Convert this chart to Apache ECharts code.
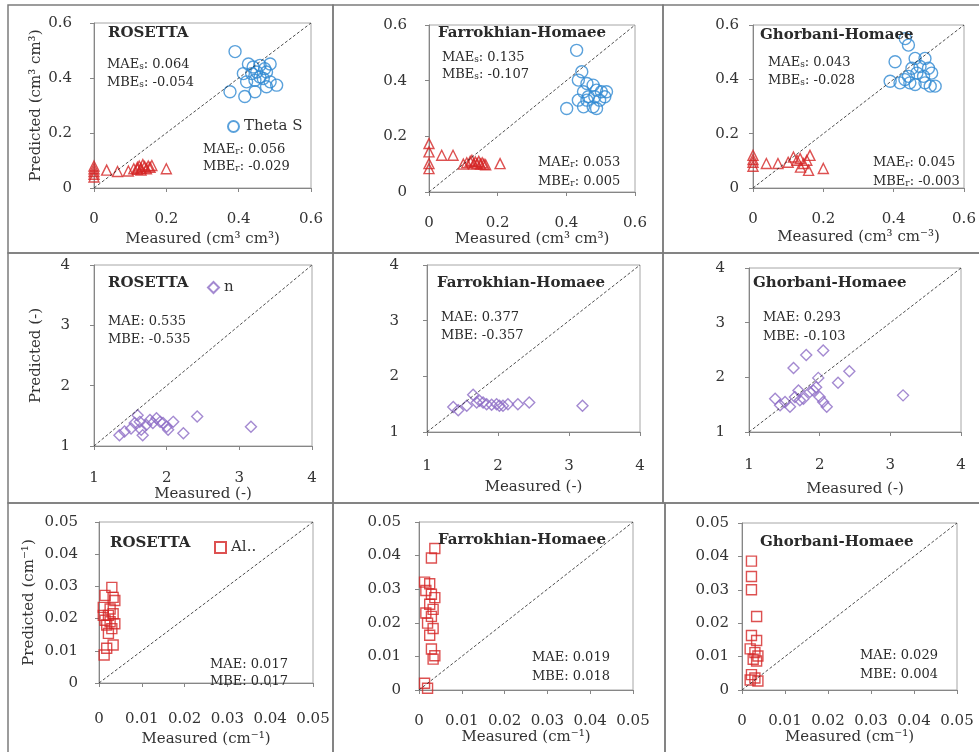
<!DOCTYPE html>
<html><head><meta charset="utf-8">
<script src="https://cdn.jsdelivr.net/npm/echarts@6/dist/echarts.min.js"></script>
<style>html,body{margin:0;padding:0;background:#fff}#c{width:979px;height:752px}</style>
</head><body><div id="c"></div>
<script>
// ================= DATA =================
// axis ranges
const thetaAxis = [0, 0.6, 0.2];
const nAxis = [1, 4, 1];
const alphaAxis = [0, 0.05, 0.01];

// --- Row 1: water contents (theta s = circles, theta r = triangles) ---
const thS_R_meas = [0.39,0.427,0.44,0.459,0.487,0.413,0.45,0.477,0.422,0.445,0.468,0.487,0.505,0.376,0.417,0.445,0.477,0.459,0.436,0.472];
const thS_R_pred = [0.496,0.451,0.44,0.446,0.451,0.416,0.422,0.422,0.386,0.392,0.398,0.386,0.374,0.35,0.333,0.35,0.368,0.404,0.416,0.434];
const thR_R_meas = [0,0,0,0,0,0.035,0.065,0.095,0.11,0.12,0.125,0.13,0.135,0.14,0.145,0.15,0.155,0.16,0.12,0.13,0.2];
const thR_R_pred = [0.04,0.05,0.06,0.07,0.08,0.065,0.06,0.062,0.07,0.075,0.08,0.072,0.085,0.078,0.07,0.08,0.075,0.082,0.068,0.065,0.07];

const thS_F_meas = [0.43,0.445,0.435,0.46,0.478,0.488,0.502,0.517,0.45,0.464,0.483,0.497,0.46,0.435,0.45,0.478,0.488,0.401,0.512];
const thS_F_pred = [0.509,0.432,0.402,0.39,0.384,0.366,0.36,0.36,0.36,0.342,0.342,0.33,0.33,0.33,0.306,0.306,0.3,0.3,0.342];
const thR_F_meas = [0,0,0,0,0.037,0.07,0.1,0.11,0.12,0.125,0.13,0.135,0.14,0.145,0.15,0.155,0.16,0.165,0.207];
const thR_F_pred = [0.174,0.144,0.102,0.084,0.132,0.132,0.1,0.105,0.11,0.114,0.1,0.108,0.102,0.11,0.1,0.105,0.1,0.098,0.102];

const thS_G_meas = [0.442,0.433,0.404,0.461,0.489,0.475,0.452,0.499,0.466,0.442,0.485,0.508,0.39,0.418,0.446,0.461,0.489,0.504,0.518,0.432];
const thS_G_pred = [0.526,0.55,0.465,0.477,0.477,0.447,0.441,0.441,0.423,0.411,0.411,0.423,0.393,0.387,0.387,0.381,0.387,0.375,0.375,0.399];
const thR_G_meas = [0,0,0,0,0.038,0.071,0.1,0.115,0.125,0.134,0.144,0.153,0.135,0.162,0.158,0.2];
const thR_G_pred = [0.12,0.105,0.095,0.08,0.09,0.09,0.095,0.114,0.102,0.108,0.09,0.102,0.077,0.12,0.065,0.072];

// --- Row 2: n (diamonds) ---
const n_R_meas = [1.35,1.42,1.51,1.56,1.60,1.63,1.65,1.67,1.72,1.77,1.81,1.86,1.91,1.95,2.0,2.02,2.09,2.23,2.42,3.16];
const n_R_pred = [1.18,1.24,1.29,1.38,1.51,1.40,1.27,1.18,1.35,1.43,1.38,1.46,1.40,1.38,1.32,1.27,1.40,1.21,1.49,1.32];
const n_F_meas = [1.37,1.44,1.56,1.65,1.70,1.74,1.79,1.84,1.91,1.98,2.02,2.07,2.14,2.28,2.44,3.19];
const n_F_pred = [1.45,1.39,1.47,1.67,1.53,1.56,1.53,1.50,1.49,1.50,1.47,1.47,1.50,1.50,1.53,1.47];
const n_G_meas = [1.37,1.44,1.51,1.58,1.63,1.65,1.70,1.72,1.77,1.81,1.86,1.91,1.95,1.98,2.0,2.05,2.05,2.10,2.26,2.42,3.18];
const n_G_pred = [1.61,1.49,1.55,1.46,2.17,1.64,1.76,1.58,1.61,2.41,1.73,1.76,1.82,1.99,1.64,2.49,1.55,1.46,1.90,2.11,1.67];

// --- Row 3: alpha (squares) ---
const a_R_meas = [0.0012,0.0033,0.0018,0.003,0.0014,0.0033,0.001,0.0026,0.0022,0.0033,0.0014,0.0026,0.0037,0.0018,0.003,0.0022,0.001,0.0037];
const a_R_pred = [0.0087,0.0118,0.0108,0.0297,0.0272,0.0266,0.0235,0.023,0.021,0.0215,0.0195,0.019,0.0184,0.018,0.0169,0.0154,0.021,0.0256];
const a_F_meas = [0.0037,0.0029,0.0013,0.0025,0.0016,0.0029,0.0037,0.0025,0.0033,0.0016,0.0029,0.002,0.0033,0.0025,0.0029,0.0037,0.0033,0.0013,0.002];
const a_F_pred = [0.0421,0.0393,0.0321,0.0316,0.0296,0.0285,0.0275,0.0255,0.024,0.0229,0.0219,0.0199,0.0183,0.0163,0.0122,0.0102,0.0092,0.002,0.0005];
const a_G_meas = [0.0022,0.0022,0.0022,0.0034,0.0022,0.0034,0.0019,0.003,0.0037,0.0026,0.0034,0.0022,0.003,0.0019,0.0037];
const a_G_pred = [0.0386,0.034,0.030,0.022,0.0163,0.0148,0.0123,0.0112,0.0102,0.0092,0.0087,0.0046,0.0036,0.003,0.0027];

// ================= LAYOUT / STYLE =================
const FONT = 'DejaVu Serif';
const TXT = '#333';
const AXC = '#868686';
const BLUE = '#3189d2', RED = '#d42626', PURPLE = '#8d6dc5';
const zip = (a, b) => a.map((v, i) => [v, b[i]]);

const panels = [
  {g:[94,23,217,165], ax:thetaAxis, yl:22, xl:24, xn:'Measured (cm³ cm³)', xg:44, yn:'Predicted (cm³ cm³)', yg:50},
  {g:[429,25,206,167], ax:thetaAxis, yl:22, xl:24, xn:'Measured (cm³ cm³)', xg:38},
  {g:[753,25,211,163], ax:thetaAxis, yl:14, xl:24, xn:'Measured (cm³ cm⁻³)', xg:42},
  {g:[94,265,218,181], ax:nAxis, yl:24, xl:25, xn:'Measured (-)', xg:34, yn:'Predicted (-)', yg:50},
  {g:[427,265,213,167], ax:nAxis, yl:28, xl:27, xn:'Measured (-)', xg:48},
  {g:[749,268,212,164], ax:nAxis, yl:24, xl:26, xn:'Measured (-)', xg:50},
  {g:[99,522,214,161], ax:alphaAxis, yl:21, xl:29, xn:'Measured (cm⁻¹)', xg:49, yn:'Predicted (cm⁻¹)', yg:62},
  {g:[419,522,214,168], ax:alphaAxis, yl:18, xl:24, xn:'Measured (cm⁻¹)', xg:40},
  {g:[742,523,215,167], ax:alphaAxis, yl:13, xl:24, xn:'Measured (cm⁻¹)', xg:40}
];

const grid = [], xAxis = [], yAxis = [], series = [];
panels.forEach((p, i) => {
  grid.push({left:p.g[0], top:p.g[1], width:p.g[2], height:p.g[3], show:true, borderColor:'#a6a6a6', borderWidth:1, backgroundColor:'transparent'});
  const common = {
    type:'value', gridIndex:i, min:p.ax[0], max:p.ax[1], interval:p.ax[2],
    axisLine:{show:true, onZero:false, lineStyle:{color:AXC, width:1}},
    axisTick:{show:true, length:4, lineStyle:{color:AXC}},
    splitLine:{show:false},
    nameLocation:'middle',
    nameTextStyle:{fontFamily:FONT, fontSize:15, color:TXT}
  };
  xAxis.push(Object.assign({}, common, {
    axisLabel:{margin:p.xl, fontFamily:FONT, fontSize:15, color:TXT},
    name:p.xn, nameGap:p.xg
  }));
  yAxis.push(Object.assign({}, common, {
    axisLabel:{margin:p.yl, fontFamily:FONT, fontSize:15, color:TXT},
    name:p.yn || '', nameGap:p.yg || 0
  }));
  series.push({
    type:'line', xAxisIndex:i, yAxisIndex:i, silent:true, symbol:'none', z:5,
    data:[[p.ax[0],p.ax[0]],[p.ax[1],p.ax[1]]],
    lineStyle:{color:'#222', width:0.8, type:[3,2]}
  });
});

function sc(name, i, xs, ys, symbol, size, color) {
  return {
    name, type:'scatter', xAxisIndex:i, yAxisIndex:i, symbol, symbolSize:size,
    data:zip(xs, ys),
    itemStyle:{color:'rgba(255,255,255,0)', borderColor:color, borderWidth:1.4}
  };
}
series.push(sc('Theta S', 0, thS_R_meas, thS_R_pred, 'circle', 12, BLUE));
series.push(sc('Theta r', 0, thR_R_meas, thR_R_pred, 'triangle', 10, RED));
series.push(sc('Theta S FH', 1, thS_F_meas, thS_F_pred, 'circle', 12, BLUE));
series.push(sc('Theta r FH', 1, thR_F_meas, thR_F_pred, 'triangle', 10, RED));
series.push(sc('Theta S GH', 2, thS_G_meas, thS_G_pred, 'circle', 12, BLUE));
series.push(sc('Theta r GH', 2, thR_G_meas, thR_G_pred, 'triangle', 10, RED));
series.push(sc('n', 3, n_R_meas, n_R_pred, 'diamond', 11, PURPLE));
series.push(sc('n FH', 4, n_F_meas, n_F_pred, 'diamond', 11, PURPLE));
series.push(sc('n GH', 5, n_G_meas, n_G_pred, 'diamond', 11, PURPLE));
series.push(sc('Al..', 6, a_R_meas, a_R_pred, 'rect', 10, RED));
series.push(sc('Al.. FH', 7, a_F_meas, a_F_pred, 'rect', 10, RED));
series.push(sc('Al.. GH', 8, a_G_meas, a_G_pred, 'rect', 10, RED));

const legTxt = {fontFamily:FONT, fontSize:15, color:TXT};
const legend = [
  {data:['Theta S'], left:222, top:114, itemWidth:11, itemHeight:11, itemGap:2, textStyle:legTxt, selectedMode:false},
  {data:['n'], left:202, top:275, itemWidth:11, itemHeight:11, textStyle:legTxt, selectedMode:false},
  {data:['Al..'], left:209, top:535, itemWidth:11, itemHeight:11, textStyle:legTxt, selectedMode:false}
];

// annotation texts
const rich = {s:{fontSize:9, fontFamily:FONT, fill:TXT, verticalAlign:'bottom', lineHeight:10}};
function t(x, y, text, bold, size) {
  return {type:'text', x, y, silent:true, z:10,
    style:{text, fill:'#2a2a2a', fontFamily:FONT, fontSize:size || 13, fontWeight:bold ? 'bold' : 'normal',
      align:'left', verticalAlign:'middle', rich}};
}
const graphic = [
  t(108,33,'ROSETTA',true,15), t(107,65,'MAE{s|s}: 0.064'), t(107,83,'MBE{s|s}: -0.054'),
  t(203,150,'MAE{s|r}: 0.056'), t(203,167,'MBE{s|r}: -0.029'),
  t(438,33,'Farrokhian-Homaee',true,15), t(442,58,'MAE{s|s}: 0.135'), t(442,75,'MBE{s|s}: -0.107'),
  t(538,163,'MAE{s|r}: 0.053'), t(538,182,'MBE{s|r}: 0.005'),
  t(760,35,'Ghorbani-Homaee',true,15), t(768,63,'MAE{s|s}: 0.043'), t(768,81,'MBE{s|s}: -0.028'),
  t(873,163,'MAE{s|r}: 0.045'), t(873,182,'MBE{s|r}: -0.003'),
  t(108,283,'ROSETTA',true,15), t(108,322,'MAE: 0.535'), t(108,340,'MBE: -0.535'),
  t(437,283,'Farrokhian-Homaee',true,15), t(441,318,'MAE: 0.377'), t(441,336,'MBE: -0.357'),
  t(753,283,'Ghorbani-Homaee',true,15), t(763,318,'MAE: 0.293'), t(763,337,'MBE: -0.103'),
  t(110,543,'ROSETTA',true,15), t(210,665,'MAE: 0.017'), t(210,682,'MBE: 0.017'),
  t(438,540,'Farrokhian-Homaee',true,15), t(532,658,'MAE: 0.019'), t(532,677,'MBE: 0.018'),
  t(760,542,'Ghorbani-Homaee',true,15), t(860,656,'MAE: 0.029'), t(860,675,'MBE: 0.004')
];
// panel frames
[[8,5,325,248],[333,5,330,248],[663,5,330,248],
 [8,253,325,250],[333,253,330,250],[663,253,330,250],
 [8,503,325,260],[333,503,332,260],[665,503,330,260]].forEach(r => {
  graphic.push({type:'rect', silent:true, z:0, shape:{x:r[0],y:r[1],width:r[2],height:r[3]},
    style:{fill:'none', stroke:'#7c7c7c', lineWidth:1.5}});
});

const chart = echarts.init(document.getElementById('c'), null, {renderer:'canvas'});
chart.setOption({animation:false, backgroundColor:'#fff', grid, xAxis, yAxis, series, legend, graphic});
</script></body></html>
